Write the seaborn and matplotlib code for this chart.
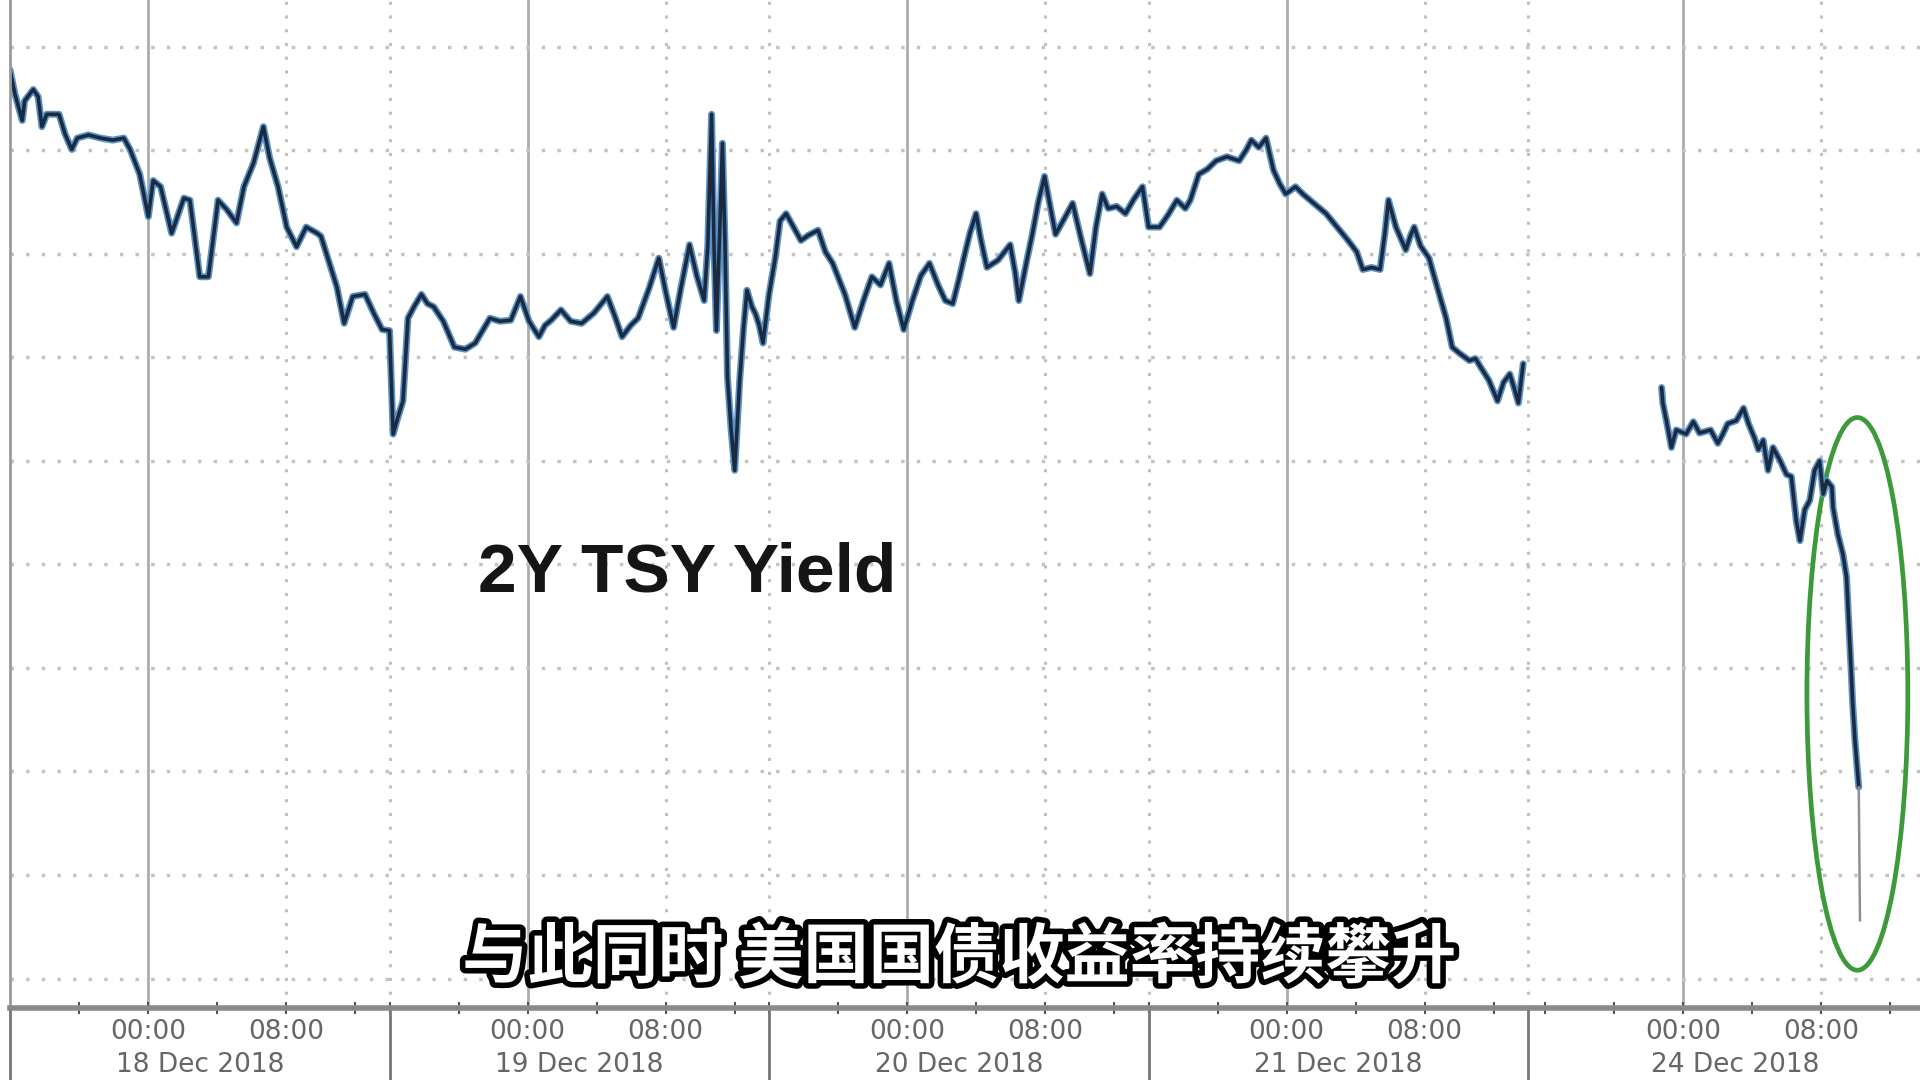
import seaborn as sns
import matplotlib.pyplot as plt
import matplotlib.patheffects as pe
import matplotlib.transforms as mtransforms
from matplotlib.patches import Ellipse
import pandas as pd

# trading-time axis: hours since session start (16:00 on 17 Dec), weekend gap removed
dec18_h = [0.0, 0.28, 0.71, 0.85, 1.35, 1.63, 1.85, 2.13, 2.84, 3.19, 3.58, 3.90, 4.54, 5.25, 5.96,
           6.60, 6.96, 7.52, 8.02, 8.30, 8.73, 9.37, 10.08, 10.43, 11.00, 11.50, 12.06, 12.56, 13.13,
           13.56, 14.12, 14.69, 15.05, 15.54, 16.04, 16.61, 17.17, 17.81, 18.03, 18.95, 19.37, 19.87,
           20.58, 21.08, 21.57]
dec18_y = [2.6778, 2.6755, 2.6729, 2.6748, 2.6759, 2.6752, 2.6723, 2.6735, 2.6735, 2.6716, 2.6701,
           2.6712, 2.6715, 2.6712, 2.6710, 2.6712, 2.6701, 2.6677, 2.6636, 2.6671, 2.6665, 2.6620,
           2.6654, 2.6652, 2.6578, 2.6578, 2.6652, 2.6643, 2.6630, 2.6665, 2.6688, 2.6723, 2.6693,
           2.6665, 2.6626, 2.6607, 2.6626, 2.6620, 2.6617, 2.6568, 2.6533, 2.6559, 2.6561, 2.6543,
           2.6527]

dec19_h = [22.00, 22.21, 22.50, 22.78, 23.07, 23.42, 23.85, 24.20, 24.56, 25.12, 25.76, 26.40, 26.97,
           27.47, 27.82, 28.39, 29.03, 29.59, 30.09, 30.66, 31.01, 31.37, 31.94, 32.50, 33.14, 33.85,
           34.63, 35.06, 35.48, 35.98, 36.41, 37.05, 37.61, 38.04, 38.47, 38.89, 39.39, 39.81, 40.24,
           40.45, 40.67, 40.81, 40.95, 41.16, 41.30, 41.45, 41.59, 41.80, 42.01, 42.30, 42.51, 42.72,
           43.01, 43.22, 43.43, 43.65]
dec19_y = [2.6526, 2.6426, 2.6443, 2.6458, 2.6538, 2.6549, 2.6561, 2.6552, 2.6549, 2.6535, 2.6510,
           2.6508, 2.6514, 2.6528, 2.6538, 2.6535, 2.6536, 2.6559, 2.6535, 2.6520, 2.6531, 2.6536,
           2.6546, 2.6535, 2.6533, 2.6543, 2.6559, 2.6540, 2.6520, 2.6531, 2.6538, 2.6567, 2.6596,
           2.6561, 2.6529, 2.6567, 2.6609, 2.6579, 2.6555, 2.6608, 2.6735, 2.6608, 2.6526, 2.6632,
           2.6707, 2.6608, 2.6481, 2.6431, 2.6391, 2.6478, 2.6526, 2.6565, 2.6549, 2.6542, 2.6531,
           2.6514]

dec20_h = [44.00, 44.36, 44.64, 44.99, 45.42, 45.85, 46.27, 46.84, 47.27, 47.69, 48.40, 48.97, 49.47,
           49.96, 50.46, 50.96, 51.38, 51.81, 52.31, 52.80, 53.30, 53.80, 54.22, 54.65, 55.00, 55.29,
           55.64, 56.00, 56.28, 56.63, 57.27, 57.98, 58.27, 58.48, 58.91, 59.26, 59.61, 59.97, 60.32,
           60.61, 61.11, 61.60, 62.10, 62.60, 62.95, 63.31, 63.66, 64.16, 64.66, 65.15, 65.65]
dec20_y = [2.6561, 2.6596, 2.6632, 2.6639, 2.6626, 2.6613, 2.6618, 2.6623, 2.6602, 2.6591, 2.6561,
           2.6529, 2.6555, 2.6578, 2.6570, 2.6591, 2.6555, 2.6527, 2.6555, 2.6579, 2.6591, 2.6570,
           2.6555, 2.6552, 2.6575, 2.6596, 2.6620, 2.6639, 2.6614, 2.6587, 2.6594, 2.6609, 2.6582,
           2.6555, 2.6591, 2.6619, 2.6650, 2.6675, 2.6644, 2.6619, 2.6634, 2.6649, 2.6614, 2.6581,
           2.6626, 2.6658, 2.6644, 2.6646, 2.6639, 2.6653, 2.6665]

dec21_h = [66.00, 66.64, 67.14, 67.64, 68.13, 68.42, 68.91, 69.41, 69.91, 70.54, 71.25, 71.68, 71.96,
           72.39, 72.81, 73.24, 73.60, 73.95, 74.52, 74.94, 75.51, 76.29, 76.93, 77.57, 78.07, 78.42,
           78.92, 79.42, 79.70, 79.91, 80.34, 80.91, 81.19, 81.40, 81.76, 82.26, 82.75, 83.25, 83.60,
           84.03, 84.60, 84.95, 85.24, 85.73, 86.23, 86.58, 86.94, 87.22, 87.44, 87.72]
dec21_y = [2.6626, 2.6626, 2.6638, 2.6652, 2.6644, 2.6652, 2.6677, 2.6682, 2.6690, 2.6694, 2.6690,
           2.6701, 2.6710, 2.6703, 2.6712, 2.6681, 2.6668, 2.6658, 2.6665, 2.6658, 2.6650, 2.6639,
           2.6626, 2.6613, 2.6602, 2.6585, 2.6587, 2.6585, 2.6620, 2.6652, 2.6626, 2.6604, 2.6618,
           2.6626, 2.6608, 2.6596, 2.6567, 2.6538, 2.6510, 2.6504, 2.6497, 2.6499, 2.6491, 2.6478,
           2.6458, 2.6476, 2.6484, 2.6469, 2.6456, 2.6494]

dec24_h = [95.74, 95.81, 96.02, 96.31, 96.59, 97.16, 97.58, 97.94, 98.58, 99.00, 99.29, 99.57, 100.07,
           100.49, 100.78, 101.13, 101.35, 101.63, 101.91, 102.20, 102.62, 102.98, 103.26, 103.55,
           103.76, 104.04, 104.33, 104.61, 104.90, 105.11, 105.32, 105.61, 105.68, 105.96, 106.25,
           106.46, 106.74, 106.81, 106.95, 107.17]
dec24_y = [2.6471, 2.6456, 2.6439, 2.6413, 2.6430, 2.6426, 2.6438, 2.6427, 2.6430, 2.6417, 2.6426,
           2.6436, 2.6439, 2.6451, 2.6436, 2.6422, 2.6411, 2.6420, 2.6391, 2.6413, 2.6400, 2.6387,
           2.6385, 2.6342, 2.6323, 2.6353, 2.6362, 2.6391, 2.6400, 2.6368, 2.6381, 2.6375, 2.6355,
           2.6329, 2.6310, 2.6288, 2.6194, 2.6168, 2.6130, 2.6085]
tail_h = [107.17, 107.24]
tail_y = [2.6085, 2.5956]

# axis layout
session_starts = [0, 22, 44, 66, 88]
midnights = [8, 30, 52, 74, 97]
mornings = [16, 38, 60, 82, 105]
day_labels = ['18 Dec 2018', '19 Dec 2018', '20 Dec 2018', '21 Dec 2018', '24 Dec 2018']
grid_levels = [2.59, 2.60, 2.61, 2.62, 2.63, 2.64, 2.65, 2.66, 2.67, 2.68]

sessions = [('18', dec18_h, dec18_y), ('19', dec19_h, dec19_y), ('20', dec20_h, dec20_y),
            ('21', dec21_h, dec21_y), ('24', dec24_h, dec24_y)]
frames = []
for name, h, y in sessions:
    frames.append(pd.DataFrame({'hour': h, 'yield': y, 'session': name}))
# 18-21 Dec trade continuously, 24 Dec after the weekend gap
df = pd.concat(frames)
df['block'] = df['session'].map(lambda s: 'b' if s == '24' else 'a')

sns.set_theme(style='white')
plt.rcParams['font.family'] = ['DejaVu Sans']

fig = plt.figure(figsize=(19.2, 10.8), dpi=100)
fig.patch.set_facecolor('white')
ax = fig.add_axes([10 / 1920, 72 / 1080, 1 - 10 / 1920, 1 - 72 / 1080])

# grid
ax.set_yticks(grid_levels)
ax.grid(axis='y', color='#c4c4c4', lw=2.5, ls=(0, (1, 3.5)))
for m in midnights:
    ax.axvline(m, color='#adadad', lw=2, zorder=0)
for t in mornings + session_starts[1:]:
    ax.axvline(t, color='#c0c0c0', lw=2.2, ls=(0, (1, 3.5)), zorder=0)

sns.lineplot(data=df, x='hour', y='yield', units='block', estimator=None, sort=False,
             color='#5a93c9', lw=5, ax=ax)
sns.lineplot(data=df, x='hour', y='yield', units='block', estimator=None, sort=False,
             color='#1b2a3f', lw=2.6, ax=ax)
sns.lineplot(x=tail_h, y=tail_y, color='#8c9097', lw=1.8, ax=ax)

ax.add_patch(Ellipse((107.09, 2.6175), 5.85, 0.0534, fill=False, edgecolor='#3d9a3a', lw=3.4))

ax.set_xlim(0, 110.72)
ax.set_ylim(2.58715, 2.68454)
ax.set_xlabel('')
ax.set_ylabel('')

# x axis: 00:00 / 08:00 labels, 4-hourly minor ticks
major_pos = sorted(midnights + mornings)
major_lab = ['00:00' if p in midnights else '08:00' for p in major_pos]
ax.set_xticks(major_pos, major_lab)
minor_pos = []
for m in midnights:
    minor_pos += [m - 8, m - 4, m + 4, m + 12]
ax.set_xticks([p for p in minor_pos if p > 0], minor=True)
ax.tick_params(axis='x', which='both', bottom=True, direction='inout', length=8, width=1.5,
               color='#555555', labelsize=19, labelcolor='#666666', pad=4)
ax.tick_params(axis='y', left=False, labelleft=False)

trans = mtransforms.blended_transform_factory(ax.transData, ax.transAxes)
for m, lab in zip(midnights, day_labels):
    ax.text(m + 3, -0.0566, lab, transform=trans, ha='center', va='center',
            fontsize=19, color='#666666')
ax.vlines(session_starts, -0.075, 0, transform=trans, colors='#777777', lw=2, clip_on=False)

for s in ['top', 'right']:
    ax.spines[s].set_visible(False)
ax.spines['left'].set_color('#9a9a9a')
ax.spines['left'].set_linewidth(2)
ax.spines['bottom'].set_color('#8a8a8a')
ax.spines['bottom'].set_linewidth(4)

fig.text(478 / 1920, 1 - 592 / 1080, '2Y TSY Yield', fontsize=50, fontweight='bold',
         family=['Liberation Sans', 'DejaVu Sans'], color='#151515', ha='left', va='baseline')

fig.text(0.4995, 0.113, '与此同时 美国国债收益率持续攀升', fontsize=47, fontweight='bold',
         family=['Noto Sans CJK SC', 'DejaVu Sans'], color='white', ha='center', va='center',
         path_effects=[pe.withStroke(linewidth=8, foreground='black')])

plt.savefig('out.png', dpi=100, facecolor='white')
